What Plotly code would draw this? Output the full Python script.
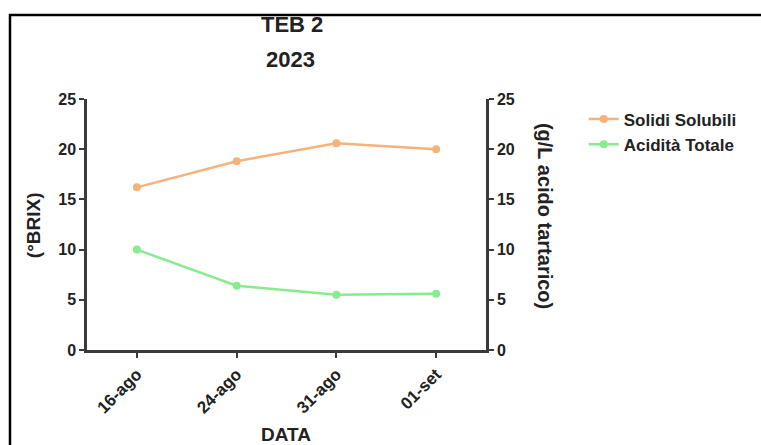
import plotly.graph_objects as go

# Sampling dates and measurements
dates = ["16-ago", "24-ago", "31-ago", "01-set"]
solidi_solubili = [16.2, 18.8, 20.6, 20.0]   # °BRIX
acidita_totale = [10.0, 6.4, 5.5, 5.6]       # g/L acido tartarico
y_ticks = [0, 5, 10, 15, 20, 25]

FONT = "Liberation Sans, Arial, sans-serif"
AXIS_COLOR = "#3a3a3a"
TEXT_COLOR = "#222222"
ORANGE = "#F7B27A"
GREEN = "#86EC8E"

fig = go.Figure()
fig.add_trace(go.Scatter(
    x=dates, y=solidi_solubili, name="<b>Solidi Solubili</b>",
    mode="lines+markers",
    line=dict(color=ORANGE, width=2.5),
    marker=dict(color=ORANGE, size=8, symbol="circle"),
))
fig.add_trace(go.Scatter(
    x=dates, y=acidita_totale, name="<b>Acidità Totale</b>",
    mode="lines+markers", yaxis="y2",
    line=dict(color=GREEN, width=2.5),
    marker=dict(color=GREEN, size=8, symbol="circle"),
))

axis_common = dict(
    showline=True, linecolor=AXIS_COLOR, linewidth=2.5,
    ticks="outside", ticklen=5, tickwidth=2, tickcolor=AXIS_COLOR,
    showgrid=False, zeroline=False,
)
ytick_font = dict(family=FONT, size=16, color=TEXT_COLOR)

fig.update_layout(
    width=761, height=445,
    margin=dict(l=87, r=275, t=99, b=95),
    paper_bgcolor="white", plot_bgcolor="white",
    font=dict(family=FONT, color=TEXT_COLOR),
    xaxis=dict(
        type="category", range=[-0.5, 3.5], tickangle=-45,
        tickvals=dates, ticktext=[f"<b>{d}</b>" for d in dates],
        tickfont=dict(family=FONT, size=17, color=TEXT_COLOR),
        **axis_common,
    ),
    yaxis=dict(
        range=[0, 25], tickvals=y_ticks,
        ticktext=[f"<b>{v}</b>" for v in y_ticks],
        tickfont=ytick_font,
        **axis_common,
    ),
    yaxis2=dict(
        range=[0, 25], tickvals=y_ticks,
        ticktext=[f"<b>{v}</b>" for v in y_ticks],
        tickfont=ytick_font,
        overlaying="y", side="right", anchor="x",
        **axis_common,
    ),
    legend=dict(
        x=1.245, y=0.99, xanchor="left", yanchor="top",
        font=dict(family=FONT, size=17, color=TEXT_COLOR),
        bgcolor="rgba(0,0,0,0)", itemwidth=30,
    ),
    showlegend=True,
)

# Titles
title_font = dict(family=FONT, size=22, color=TEXT_COLOR)
fig.add_annotation(text="<b>TEB 2</b>", x=0.514, y=1.295, xref="paper", yref="paper",
                   showarrow=False, font=title_font, xanchor="center", yanchor="middle")
fig.add_annotation(text="<b>2023</b>", x=0.509, y=1.159, xref="paper", yref="paper",
                   showarrow=False, font=title_font, xanchor="center", yanchor="middle")
fig.add_annotation(text="<b>DATA</b>", x=0.499, y=-0.335, xref="paper", yref="paper",
                   showarrow=False, font=dict(family=FONT, size=19, color=TEXT_COLOR),
                   xanchor="center", yanchor="middle")
fig.add_annotation(text="<b>(°BRIX)</b>", x=-0.135, y=0.498, xref="paper", yref="paper",
                   showarrow=False, textangle=-90,
                   font=dict(family=FONT, size=19, color=TEXT_COLOR),
                   xanchor="center", yanchor="middle")
fig.add_annotation(text="<b>(g/L acido tartarico)</b>", x=1.148, y=0.534, xref="paper", yref="paper",
                   showarrow=False, textangle=90,
                   font=dict(family=FONT, size=20, color=TEXT_COLOR),
                   xanchor="center", yanchor="middle")

# Outer frame (top and left edges visible)
fig.add_shape(type="rect", xref="paper", yref="paper",
              x0=-0.193, x1=2.0, y0=-1.0, y1=1.335,
              line=dict(color="black", width=2.5), fillcolor="rgba(0,0,0,0)")

fig.write_html("out.html")
